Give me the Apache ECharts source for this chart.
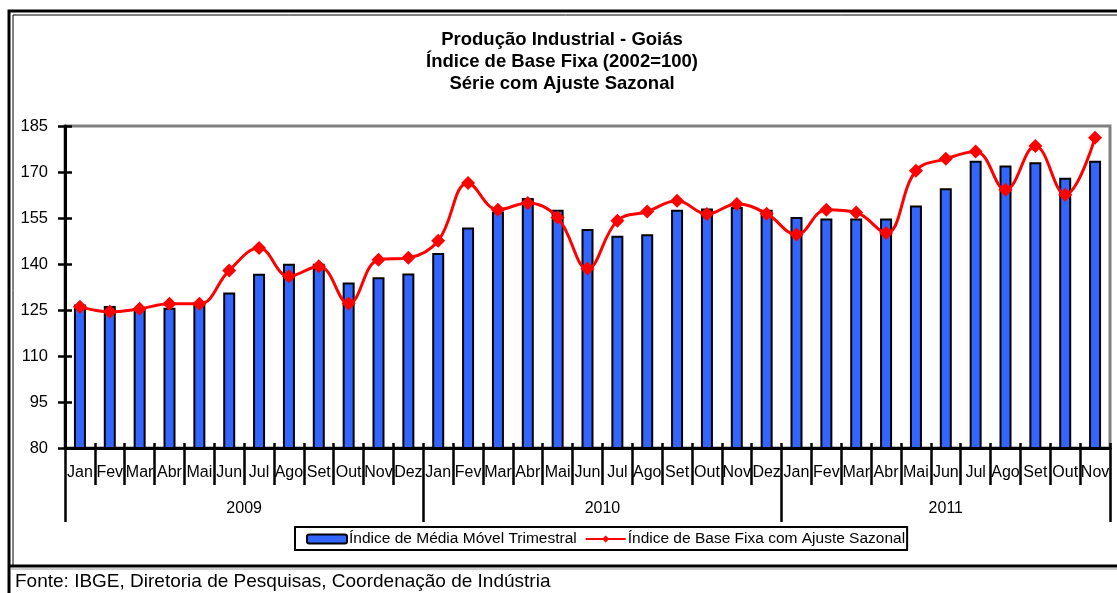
<!DOCTYPE html>
<html>
<head>
<meta charset="utf-8">
<script src="https://cdn.jsdelivr.net/npm/echarts@6/dist/echarts.min.js"></script>
<style>
html,body{margin:0;padding:0;background:#fff;}
#chart{width:1117px;height:593px;}
</style>
</head>
<body>
<div id="chart"></div>
<script>
// ---- data ----
const monthNames = ['Jan','Fev','Mar','Abr','Mai','Jun','Jul','Ago','Set','Out','Nov','Dez'];
const years = ['2009','2010','2011'];
const monthsPerYear = [12, 12, 11];
const mediaMovel = [
  126.8,126.3,125.7,125.7,126.8,130.7,136.8,140.1,140.1,134.0,135.7,136.9,
  143.6,151.9,157.1,161.5,157.7,151.4,149.2,149.7,157.7,158.1,158.6,157.7,
  155.3,154.8,154.8,154.8,159.1,164.7,173.7,172.1,173.2,168.1,173.7
];
const baseFixa = [
  126.1,124.4,125.4,127.0,127.0,137.9,145.2,136.0,139.3,127.1,141.4,142.0,
  147.6,166.4,157.7,159.9,155.2,138.5,154.1,157.1,160.6,156.3,159.6,156.4,
  149.6,157.7,156.8,150.1,170.4,174.3,176.7,164.2,178.5,162.6,181.2
];
const yMin = 80, yMax = 185, yStep = 15;
const seriesNames = ['Índice de Média Móvel Trimestral', 'Índice de Base Fixa com Ajuste Sazonal'];
const titleLines = ['Produção Industrial - Goiás', 'Índice de Base Fixa (2002=100)', 'Série com Ajuste Sazonal'];
const sourceText = 'Fonte: IBGE, Diretoria de Pesquisas, Coordenação de Indústria';

// ---- derived categories ----
const months = [];
monthsPerYear.forEach(n => { for (let i = 0; i < n; i++) months.push(monthNames[i]); });
// half-month points for year axis (boundaryGap false)
const totalHalf = months.length * 2;
const halfSlots = [];
for (let i = 0; i <= totalHalf; i++) halfSlots.push('h' + i);
const yearTickIdx = [0];
const yearLabelIdx = {};
let acc = 0;
monthsPerYear.forEach((n, k) => {
  yearLabelIdx[acc * 2 + n] = years[k];
  acc += n;
  yearTickIdx.push(acc * 2);
});

const FONT = "'Liberation Sans',Arial,sans-serif";

const chart = echarts.init(document.getElementById('chart'), null, {renderer: 'canvas'});
chart.setOption({
  animation: false,
  backgroundColor: '#fff',
  title: {
    text: titleLines.join('\n'),
    left: 562,
    textAlign: 'center',
    top: 29,
    padding: 0,
    textStyle: {fontFamily: FONT, fontWeight: 'bold', fontSize: 18.5, lineHeight: 22, color: '#000'}
  },
  legend: {
    data: seriesNames,
    left: 295,
    top: 527,
    padding: [4, 2, 3, 11],
    itemGap: 8,
    itemWidth: 40,
    itemHeight: 9,
    borderColor: '#000',
    borderWidth: 2,
    borderRadius: 0,
    backgroundColor: '#fff',
    textStyle: {fontFamily: FONT, fontSize: 15.5, color: '#000', padding: [0,0,0,-3]}
  },
  grid: {
    left: 65, right: 7, top: 126, bottom: 145,
    show: true, borderColor: '#808080', borderWidth: 3,
    containLabel: false, outerBoundsMode: 'none'
  },
  xAxis: [
    {
      type: 'category', data: months, position: 'bottom', boundaryGap: true,
      axisLine: {show: true, lineStyle: {color: '#000', width: 3}},
      axisTick: {show: true, interval: 0, length: 37, lineStyle: {color: '#000', width: 2.5}},
      axisLabel: {interval: 0, margin: 17, fontFamily: FONT, fontSize: 16, color: '#000'},
      splitLine: {show: false}
    },
    {
      type: 'category', data: months, position: 'bottom', boundaryGap: true,
      axisLine: {show: false},
      axisTick: {show: true, inside: true, interval: 0, length: 5, lineStyle: {color: '#000', width: 2.5}},
      axisLabel: {show: false},
      splitLine: {show: false}
    },
    {
      type: 'category', data: halfSlots, position: 'bottom', boundaryGap: false,
      axisLine: {show: false},
      axisTick: {show: true, length: 74, interval: (i) => yearTickIdx.indexOf(i) >= 0, lineStyle: {color: '#000', width: 2.5}},
      axisLabel: {show: true, interval: (i) => yearLabelIdx[i] !== undefined, formatter: (v, i) => yearLabelIdx[i] || '',
        margin: 53, fontFamily: FONT, fontSize: 16, color: '#000'},
      splitLine: {show: false}
    }
  ],
  yAxis: [
    {
      type: 'value', min: yMin, max: yMax, interval: yStep,
      axisLine: {show: true, lineStyle: {color: '#000', width: 3}},
      axisTick: {show: true, length: 7, lineStyle: {color: '#000', width: 2.5}},
      axisLabel: {margin: 17, fontFamily: FONT, fontSize: 16.5, color: '#000'},
      splitLine: {show: false}
    },
    {
      type: 'value', min: yMin, max: yMax, interval: yStep, position: 'left',
      axisLine: {show: false},
      axisTick: {show: true, inside: true, length: 7, lineStyle: {color: '#000', width: 2.5}},
      axisLabel: {show: false},
      splitLine: {show: false}
    }
  ],
  series: [
    {
      name: seriesNames[0], type: 'bar', data: mediaMovel, xAxisIndex: 0, yAxisIndex: 0,
      barWidth: 12,
      itemStyle: {color: '#3366FF', borderColor: '#000', borderWidth: 2}
    },
    {
      name: seriesNames[1], type: 'line', data: baseFixa, xAxisIndex: 0, yAxisIndex: 0,
      smooth: 0.4,
      symbol: 'diamond', symbolSize: 14,
      lineStyle: {color: '#FF0000', width: 3},
      itemStyle: {color: '#FF0000'},
      z: 5
    }
  ],
  graphic: [
    {type: 'rect', shape: {x: 9, y: 11, width: 1300, height: 800}, style: {fill: null, stroke: '#000', lineWidth: 3}, silent: true, z: 100},
    {type: 'rect', shape: {x: 13, y: 15, width: 1300, height: 551}, style: {fill: null, stroke: '#000', lineWidth: 1}, silent: true, z: 100},
    {type: 'line', shape: {x1: 9, y1: 566, x2: 1117, y2: 566}, style: {stroke: '#000', lineWidth: 3}, silent: true, z: 100},
    {type: 'line', shape: {x1: 11, y1: 569, x2: 1117, y2: 569}, style: {stroke: '#cccccc', lineWidth: 2}, silent: true, z: 100},
    {type: 'text', left: 15, top: 572, style: {text: sourceText, font: "19px " + FONT, fill: '#000'}, silent: true, z: 100}
  ]
});
</script>
</body>
</html>
